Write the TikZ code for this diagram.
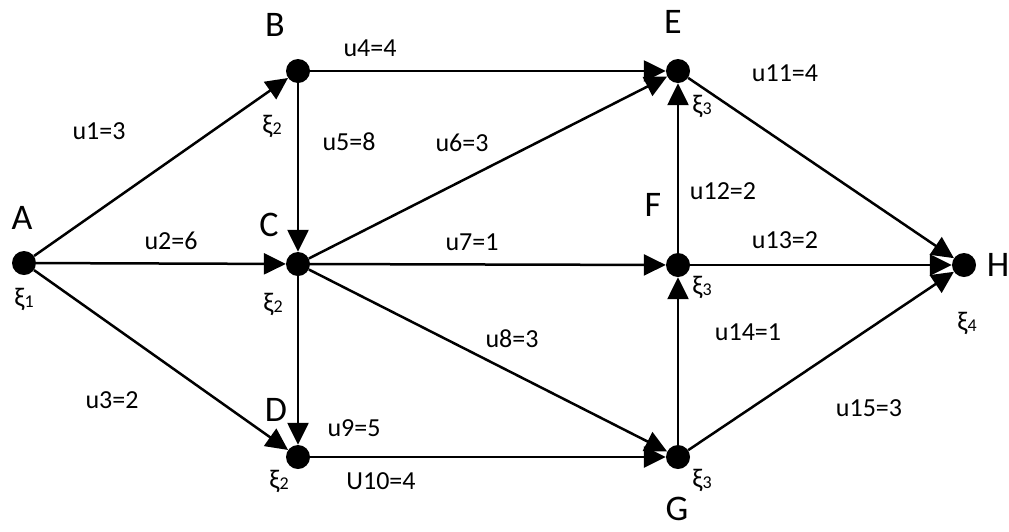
\documentclass[tikz,border=0pt]{standalone}
\usepackage{fontspec}
\setmainfont{Carlito}
\usetikzlibrary{arrows.meta}
\newcommand\xsub[1]{ξ\raisebox{-1.5pt}{\fontsize{18}{18}\selectfont #1}}
\begin{document}
\begin{tikzpicture}[x=1pt,y=-1pt,
 vtx/.style={circle,fill=black,inner sep=0pt,minimum size=24pt},
 edge/.style={line width=2.5pt,-{Triangle[length=22pt,width=21pt]}},
 lbl/.style={font=\fontsize{26}{26}\selectfont,inner sep=0pt},
 nm/.style={font=\fontsize{36}{36}\selectfont,inner sep=0pt},
 xil/.style={font=\fontsize{27}{27}\selectfont,inner sep=0pt}]
\useasboundingbox (0,0) rectangle (1009,531);
% vertices
\node[vtx] (A) at (24,263) {};
\node[vtx] (B) at (298,71) {};
\node[vtx] (C) at (298,264) {};
\node[vtx] (D) at (298,457) {};
\node[vtx] (E) at (678,71) {};
\node[vtx] (F) at (678,265) {};
\node[vtx] (G) at (678,457) {};
\node[vtx] (H) at (964,265) {};
% edges
\draw[edge] (A) -- (B);
\draw[edge] (A) -- (C);
\draw[edge] (A) -- (D);
\draw[edge] (B) -- (E);
\draw[edge] (B) -- (C);
\draw[edge] (C) -- (E);
\draw[edge] (C) -- (F);
\draw[edge] (C) -- (G);
\draw[edge] (C) -- (D);
\draw[edge] (D) -- (G);
\draw[edge] (E) -- (H);
\draw[edge] (F) -- (E);
\draw[edge] (F) -- (H);
\draw[edge] (G) -- (F);
\draw[edge] (G) -- (H);
% names
\node[nm] (nA) at (22,218) {A};
\node[nm] (nB) at (275,25) {B};
\node[nm] (nC) at (269,225) {C};
\node[nm] (nD) at (276,410) {D};
\node[nm] (nE) at (673,22) {E};
\node[nm] (nF) at (653,205) {F};
\node[nm] (nG) at (677,509) {G};
\node[nm] (nH) at (998,265) {H};
% edge labels
\node[lbl] (l1) at (99,131) {u1=3};
\node[lbl] (l2) at (171,241) {u2=6};
\node[lbl] (l3) at (112,400) {u3=2};
\node[lbl] (l4) at (370,48) {u4=4};
\node[lbl] (l5) at (349,142) {u5=8};
\node[lbl] (l6) at (462,143) {u6=3};
\node[lbl] (l7) at (472,242) {u7=1};
\node[lbl] (l8) at (512,339) {u8=3};
\node[lbl] (l9) at (354,428) {u9=5};
\node[lbl] (l10) at (381,481) {U10=4};
\node[lbl] (l11) at (785,73) {u11=4};
\node[lbl] (l12) at (723,191) {u12=2};
\node[lbl] (l13) at (785,240) {u13=2};
\node[lbl] (l14) at (748,332) {u14=1};
\node[lbl] (l15) at (869,408) {u15=3};
% xi labels
\node[xil] (xA) at (24,299) {\xsub{1}};
\node[xil] (xB) at (272,126) {\xsub{2}};
\node[xil] (xC) at (273,304) {\xsub{2}};
\node[xil] (xD) at (279,481) {\xsub{2}};
\node[xil] (xE) at (702,106) {\xsub{3}};
\node[xil] (xF) at (702,287) {\xsub{3}};
\node[xil] (xG) at (702,480) {\xsub{3}};
\node[xil] (xH) at (967,323) {\xsub{4}};
\end{tikzpicture}
\end{document}
